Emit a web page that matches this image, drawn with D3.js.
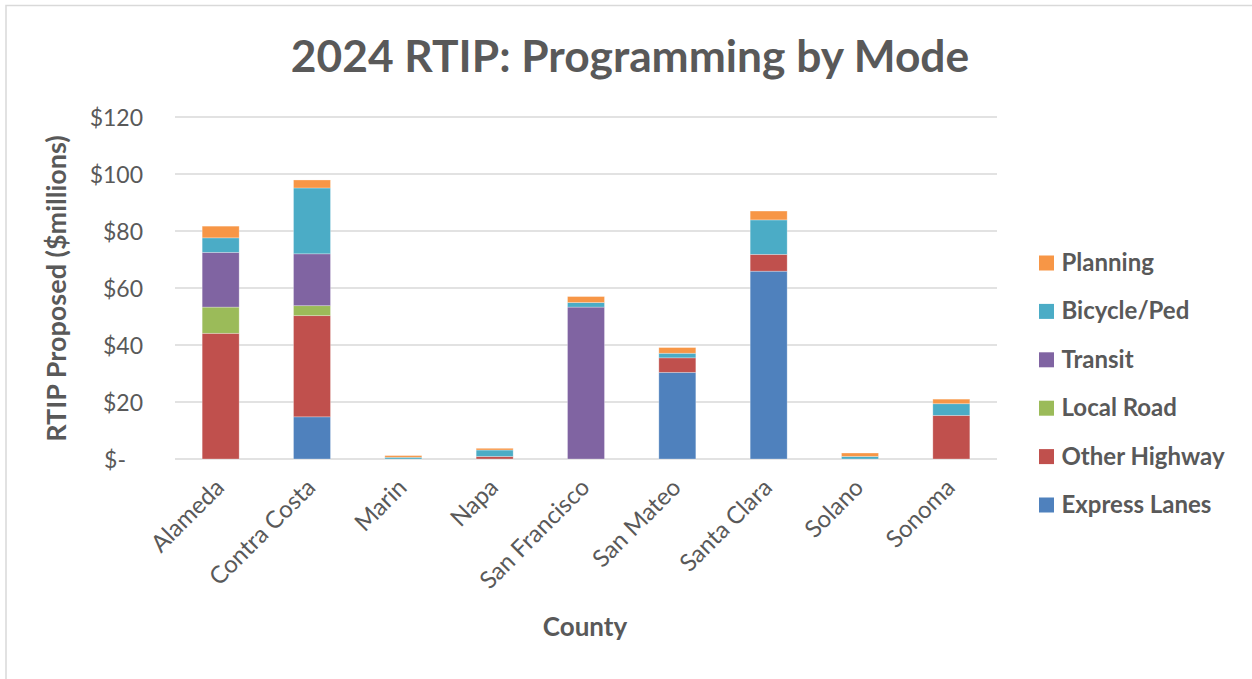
<!DOCTYPE html>
<html><head><meta charset="utf-8">
<script src="https://cdn.jsdelivr.net/npm/d3@7"></script>
<style>
html,body{margin:0;padding:0;background:#fff;}
text{font-family:Lato,"Open Sans",sans-serif;fill:#595959;}
</style></head>
<body>
<svg id="chart" width="1252" height="679"></svg>
<script>
const counties = ["Alameda","Contra Costa","Marin","Napa","San Francisco","San Mateo","Santa Clara","Solano","Sonoma"];
const modes = ["Express Lanes","Other Highway","Local Road","Transit","Bicycle/Ped","Planning"];
const expressLanes = [0, 14.8, 0, 0, 0, 30.4, 65.9, 0, 0];
const otherHighway = [44.1, 35.5, 0, 0.9, 0, 5.1, 5.9, 0, 15.3];
const localRoad    = [9.2, 3.5, 0, 0, 0, 0, 0, 0, 0];
const transit      = [19.2, 18.2, 0, 0, 53.3, 0, 0, 0, 0];
const bicyclePed   = [5.1, 23.1, 0.6, 2.25, 1.6, 1.6, 12.1, 0.9, 4.1];
const planning     = [4.1, 2.8, 0.6, 0.6, 2.1, 2.0, 3.1, 1.2, 1.6];
const yTicks = [0, 20, 40, 60, 80, 100, 120];
const colors = ["#4F81BD","#C0504D","#9BBB59","#8064A2","#4BACC6","#F79646"];

const seriesArrays = [expressLanes, otherHighway, localRoad, transit, bicyclePed, planning];
const rows = counties.map((c, i) => {
  const r = {county: c};
  modes.forEach((m, j) => r[m] = seriesArrays[j][i]);
  return r;
});

const svg = d3.select("#chart");
// chart border
svg.append("rect").attr("x", 6).attr("y", 5.5).attr("width", 1260).attr("height", 690)
  .attr("fill", "none").attr("stroke", "#D9D9D9").attr("stroke-width", 1.5);

const pLeft = 175, pRight = 997, pTop = 117, pBottom = 459;
const x = d3.scaleBand().domain(counties).range([pLeft, pRight]).paddingInner(0.595).paddingOuter(0.2975);
const y = d3.scaleLinear().domain([0, 120]).range([pBottom, pTop]);

// gridlines
svg.append("g").selectAll("line").data(yTicks).join("line")
  .attr("x1", pLeft).attr("x2", pRight)
  .attr("y1", d => y(d)).attr("y2", d => y(d))
  .attr("stroke", "#D9D9D9").attr("stroke-width", 1.5);

// y tick labels
svg.append("g").selectAll("text").data(yTicks).join("text")
  .attr("x", d => d === 0 ? 126 : 143)
  .attr("y", d => y(d) + 8.5)
  .attr("text-anchor", "end")
  .style("font-size", "23px")
  .text(d => d === 0 ? "$-" : "$" + d);

// stacked bars
const stack = d3.stack().keys(modes)(rows);
svg.append("g").selectAll("g").data(stack).join("g")
  .attr("fill", (d, i) => colors[i])
  .selectAll("rect").data(d => d).join("rect")
  .attr("x", d => x(d.data.county))
  .attr("width", x.bandwidth())
  .attr("y", d => y(d[1]))
  .attr("height", d => Math.max(0, y(d[0]) - y(d[1])))
  .attr("stroke", "rgba(255,255,255,0.35)").attr("stroke-width", 0.8);

// x labels
svg.append("g").selectAll("text").data(counties).join("text")
  .attr("transform", d => `translate(${x(d) + x.bandwidth()/2 + 5},${489}) rotate(-45)`)
  .attr("text-anchor", "end")
  .style("font-size", "24px")
  .text(d => d);

// title
svg.append("text").attr("x", 630).attr("y", 72).attr("text-anchor", "middle")
  .style("font-size", "44.3px").style("font-weight", "bold")
  .text("2024 RTIP: Programming by Mode");

// axis titles
svg.append("text").attr("x", 585).attr("y", 636).attr("text-anchor", "middle")
  .style("font-size", "26px").style("font-weight", "bold").text("County");
svg.append("text").attr("transform", "translate(66,288.5) rotate(-90)").attr("text-anchor", "middle")
  .style("font-size", "27px").style("font-weight", "bold").text("RTIP Proposed ($millions)");

// legend (reverse order)
const legendItems = modes.map((m, i) => ({m, c: colors[i]})).reverse();
const lg = svg.append("g").selectAll("g").data(legendItems).join("g")
  .attr("transform", (d, i) => `translate(1039,${263 + i * 48.4})`);
lg.append("rect").attr("x", 0).attr("y", -7.5).attr("width", 15).attr("height", 15).attr("fill", d => d.c);
lg.append("text").attr("x", 22.5).attr("y", 8).style("font-size", "24px").style("font-weight", "bold").text(d => d.m);
</script>
</body></html>
